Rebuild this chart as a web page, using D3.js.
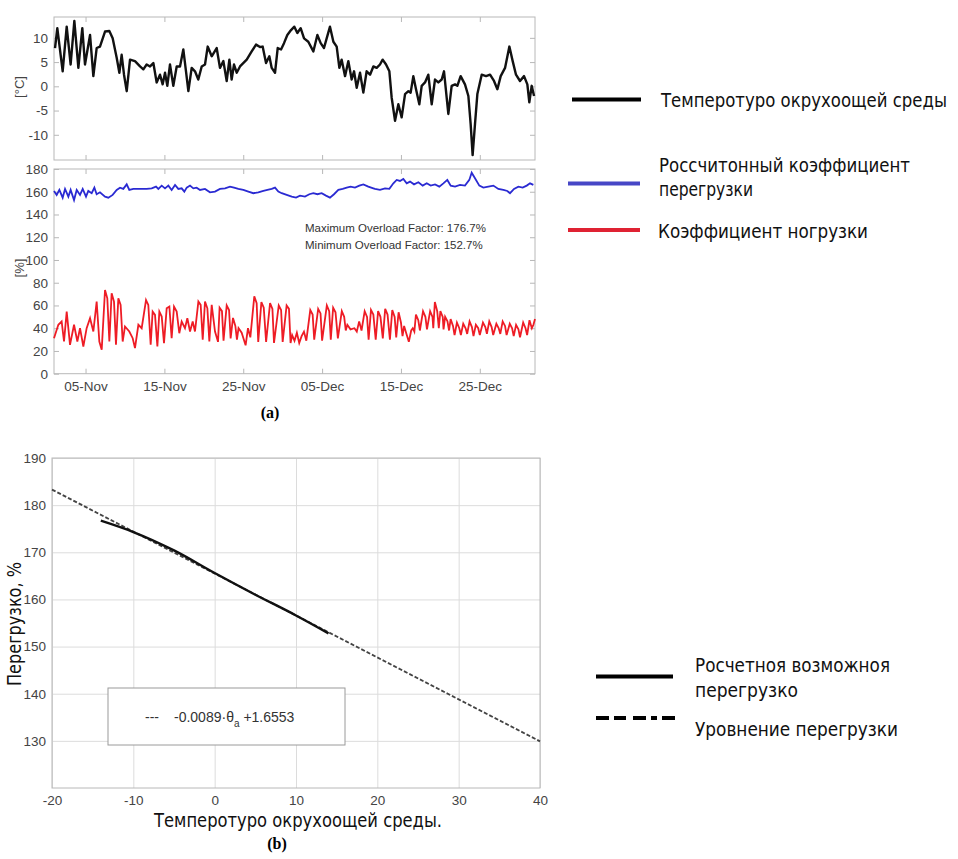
<!DOCTYPE html>
<html>
<head>
<meta charset="utf-8">
<script src="https://cdnjs.cloudflare.com/ajax/libs/d3/7.8.5/d3.min.js"></script>
<style>
body { margin: 0; background: #fff; }
text { font-family: "Liberation Sans", Arial, sans-serif; }
.ru { font-family: "DejaVu Sans Condensed", "DejaVu Sans", sans-serif; font-size: 19px; fill: #111; }
.axis text { fill: #444; font-size: 13.5px; }
.axis line { stroke: #b8b8b8; }
.axis path { display: none; }
.grid line { stroke: #dcdcdc; }
.grid path { display: none; }
</style>
</head>
<body>
<script>
// ambient temperature, day offset from 1 Nov 2013
var tempDay = [0.13,0.42,1.10,1.61,2.11,2.58,3.09,3.59,3.93,4.57,
  4.99,5.41,5.83,6.47,7.02,7.44,7.95,8.29,8.58,8.88,
  9.22,9.64,10.27,10.91,11.33,11.75,12.18,12.60,13.02,13.44,
  13.78,14.08,14.37,14.71,15.13,15.56,15.98,16.40,16.74,17.04,
  17.46,17.88,18.30,18.73,19.15,19.49,20.00,
  20.63,21.05,21.48,21.90,22.24,22.53,22.83,23.17,23.59,24.44,
  25.07,25.62,26.13,26.46,26.89,27.31,27.61,28.03,28.37,28.79,
  29.17,29.59,30.06,30.48,30.86,31.28,31.71,32.25,32.89,33.40,
  33.82,34.24,34.58,35.00,35.43,35.85,36.19,36.48,36.91,37.33,
  37.75,38.05,38.39,38.81,39.23,39.65,40.08,
  40.50,40.92,41.34,41.68,42.11,42.53,42.82,43.25,43.67,44.09,
  44.52,44.94,45.23,45.57,45.91,46.33,46.63,47.05,47.47,47.90,
  48.32,48.74,49.17,49.46,50.01,50.43,50.86,51.15,51.57,52.12,
  52.55,52.84,53.09,53.39,53.69,54.24,54.79,55.30,55.80,56.23,
  56.65,57.20,57.75,58.17,58.59,59.10,59.61,60.03,60.28,60.58,60.88];
var tempVal = [7.9,12.0,3.1,12.3,4.5,13.5,3.8,12.0,4.5,10.6,
  2.1,7.9,8.2,11.3,11.4,9.9,5.9,2.8,6.5,2.4,
  -1.0,5.5,5.2,4.1,3.5,4.5,4.1,4.8,0.8,2.4,
  0.4,2.8,0.1,4.5,0.1,4.1,4.1,7.6,3.1,-1.0,
  3.8,3.1,1.4,4.1,4.5,8.2,6.2,
  7.9,3.8,5.2,1.1,5.5,1.4,4.5,2.8,4.1,5.5,
  7.2,8.6,8.1,8.2,4.8,6.2,3.8,2.8,7.9,7.6,
  8.9,10.6,11.6,12.3,11.0,12.0,9.9,9.2,7.2,10.6,
  8.9,7.9,9.9,12.3,9.2,8.2,3.8,5.5,2.1,5.2,
  1.4,3.1,-0.3,2.8,-1.3,3.1,2.4,
  4.1,3.8,4.5,5.5,4.5,3.1,-2.3,-7.1,-3.7,-6.4,
  -1.6,-1.0,-1.3,2.1,-0.6,-3.7,0.1,0.8,2.4,-3.7,
  1.4,0.8,1.4,3.1,-5.7,0.1,0.4,0.1,2.1,0.4,
  -2.0,-7.8,-14.2,-7.8,-1.6,2.4,2.1,2.4,1.1,-0.6,
  2.1,3.8,8.2,5.2,2.4,1.1,2.1,0.4,-3.3,0.1,-2.0];

// calculated overload factor (blue), %
var overDay = [0.0,0.34,0.68,1.10,1.40,1.82,2.11,2.54,2.88,3.30,
  3.64,4.06,4.35,4.78,5.12,5.41,5.83,6.47,6.89,7.44,
  7.95,8.37,8.79,9.22,9.55,10.06,10.91,11.75,12.39,12.94,
  13.23,13.66,14.08,14.50,14.92,15.35,15.77,16.19,16.53,16.83,
  17.25,17.67,18.09,18.52,19.15,19.78,20.42,
  21.05,21.69,22.32,22.83,23.38,24.01,24.65,25.28,25.91,26.55,
  27.06,27.61,28.03,28.45,28.88,29.51,30.15,30.69,31.20,31.83,
  32.38,32.89,33.40,33.95,34.49,35.00,35.51,36.06,36.61,37.12,
  37.62,38.17,38.72,39.23,39.86,40.50,
  40.71,41.34,41.98,42.53,43.04,43.46,43.88,44.30,44.73,45.15,
  45.66,46.21,46.76,47.27,47.77,48.32,48.87,49.38,49.88,50.31,
  50.86,51.49,52.12,52.67,52.97,53.39,53.94,54.45,55.08,55.72,
  56.35,56.99,57.49,57.83,58.34,58.89,59.44,59.95,60.37,60.79];
var overVal = [160.7,157.2,161.6,154.8,162.5,155.7,161.6,152.7,161.6,157.2,
  162.5,155.7,160.7,158.7,163.6,157.8,159.5,155.7,154.8,157.2,
  161.6,163.6,162.5,166.5,161.6,162.5,162.5,162.5,163.0,164.5,
  162.5,165.4,163.0,165.4,161.6,166.0,162.5,163.0,160.1,163.6,
  165.4,163.0,163.6,161.6,162.5,159.5,160.1,
  162.5,163.0,164.5,163.6,162.5,161.6,160.1,158.7,159.5,160.7,
  161.6,162.5,163.6,160.1,158.7,157.2,155.7,154.8,156.6,155.7,
  157.8,158.7,157.8,158.7,156.6,154.8,157.8,161.6,162.5,163.6,
  164.5,163.6,165.4,166.5,164.5,163.0,
  162.5,161.6,163.0,162.5,167.4,170.4,169.5,171.2,167.4,168.9,
  166.5,168.3,165.4,167.4,165.4,166.5,164.5,167.4,170.4,165.4,
  164.5,166.0,165.4,170.4,176.7,171.8,165.4,163.6,164.5,165.4,
  162.5,161.6,160.7,158.7,162.5,164.5,163.6,165.4,167.4,166.0];

// load factor (red), %
var loadDay = [0.0,0.55,0.97,1.27,1.61,2.03,2.54,2.96,3.30,3.72,
  4.14,4.57,4.99,5.41,5.75,6.05,6.47,6.76,7.02,7.31,
  7.61,7.86,8.16,8.45,8.71,9.00,9.55,9.98,10.27,10.70,
  11.12,11.67,11.96,12.26,12.51,12.81,13.11,13.36,13.66,13.95,
  14.29,14.63,14.92,15.22,15.56,15.89,16.19,16.61,16.91,17.25,
  17.59,17.88,18.31,18.60,18.86,19.15,19.45,19.70,20.00,20.42,
  20.8,21.0,21.3,21.5,21.9,22.2,22.4,22.7,23.0,23.2,
  23.4,23.8,24.3,24.6,24.9,25.4,25.7,25.9,26.3,26.6,
  26.9,27.4,27.7,27.9,28.5,28.8,29.0,29.5,29.8,30.0,
  30.2,30.5,30.8,31.1,31.4,31.7,32.0,32.5,32.8,33.0,
  33.5,33.8,34.0,34.6,34.9,35.1,35.4,35.7,36.0,36.5,
  36.8,37.0,37.2,37.6,38.1,38.4,38.7,39.0,39.4,39.7,
  39.9,40.2,40.5,40.8,41.1,41.4,41.7,42.0,42.3,42.6,
  42.9,43.2,43.4,43.7,44.0,44.2,44.4,44.7,45.0,45.3,
  45.5,45.7,45.9,46.2,46.4,46.8,47.1,47.3,47.7,48.0,
  48.1,48.3,48.6,48.8,49.0,49.3,49.4,49.6,49.9,50.1,
  50.3,50.6,50.8,51.1,51.4,51.6,51.9,52.2,52.4,52.7,
  53.0,53.2,53.5,53.8,54.0,54.4,54.7,54.9,55.2,55.5,
  55.7,56.1,56.4,56.6,56.9,57.2,57.4,57.8,58.1,58.3,
  58.6,58.9,59.1,59.5,59.8,60.0,60.3,60.6,60.8,61.0];
var loadVal = [31.2,43.0,45.9,28.3,54.6,25.4,43.0,28.3,40.0,23.9,
  40.0,48.8,37.1,63.4,28.3,21.0,73.6,66.3,28.3,70.7,
  63.4,25.4,66.3,60.5,28.3,41.5,37.1,31.2,22.5,43.0,
  40.0,64.8,60.5,25.4,54.6,51.7,23.9,54.6,50.3,26.9,
  57.5,59.0,31.2,59.0,54.6,35.6,45.9,40.0,48.8,37.1,
  45.9,37.1,63.4,60.5,29.8,63.4,57.5,28.3,60.5,37.1,
  28,58,55,29,60,56,31,49,42,30,
  40,36,25,40,32,68,62,28,63,58,
  28,62,57,27,60,56,28,60,57,27,
  34,29,36,27,33,37,29,56,52,30,
  57,53,29,60,55,30,58,54,31,55,
  50,38,43,39,40,37,46,38,55,50,
  30,56,52,30,55,50,31,57,52,30,
  56,50,32,54,45,33,42,35,28,38,
  40,37,52,47,38,55,50,39,55,50,
  40,63,55,40,55,50,39,50,46,38,
  48,42,34,45,40,34,44,40,35,46,
  41,33,43,40,34,45,41,35,46,41,
  34,44,40,35,46,42,34,44,40,33,
  43,39,32,45,40,34,47,40,43,48];

var dateTicks = ["2013-11-05","2013-11-15","2013-11-25","2013-12-05","2013-12-15","2013-12-25"];
var tempTicks = [-10, -5, 0, 5, 10];
var pctTicks = [0, 20, 40, 60, 80, 100, 120, 140, 160, 180];

// panel (b)
var fitT = [-20, 40];
var fitV = [183.3, 129.9];
var calcT = [-14, -10, -5, 0, 5, 10, 14];
var calcV = [176.7, 174.3, 170.4, 165.6, 161.0, 156.6, 152.8];
var bxTicks = [-20, -10, 0, 10, 20, 30, 40];
var byTicks = [130, 140, 150, 160, 170, 180, 190];

var w = 958, h = 859;
var t0 = Date.UTC(2013, 10, 1);
var toDate = d => new Date(t0 + d * 864e5);
var parse = d3.utcParse("%Y-%m-%d");
var plain = d => String(d);   // hyphen minus, as in the source figure

var svg = d3.select("body").append("svg")
    .attr("width", w).attr("height", h)
    .style("background", "#fff");

var x = d3.scaleUtc()
    .domain([new Date(t0), new Date(Date.UTC(2014, 0, 1))])
    .range([54, 535]);

var yT = d3.scaleLinear().domain([-15.2, 14.3]).range([160, 17]);
var yP = d3.scaleLinear().domain([0, 180]).range([373.7, 169]);

function frame(x0, y0, x1, y1) {
    svg.append("rect")
        .attr("x", x0).attr("y", y0)
        .attr("width", x1 - x0).attr("height", y1 - y0)
        .attr("fill", "none").attr("stroke", "#b8b8b8");
}

function boxAxes(ys, ticks, top, bottom, showDates) {
    svg.append("g").attr("class", "axis")
        .attr("transform", "translate(54,0)")
        .call(d3.axisLeft(ys).tickValues(ticks).tickSize(-5).tickPadding(6).tickFormat(plain));
    svg.append("g").attr("class", "axis")
        .attr("transform", "translate(535,0)")
        .call(d3.axisRight(ys).tickValues(ticks).tickSize(-5).tickFormat(""));
    var dt = dateTicks.map(parse);
    svg.append("g").attr("class", "axis")
        .attr("transform", "translate(0," + top + ")")
        .call(d3.axisTop(x).tickValues(dt).tickSize(-5).tickFormat(""));
    svg.append("g").attr("class", "axis")
        .attr("transform", "translate(0," + bottom + ")")
        .call(d3.axisBottom(x).tickValues(dt).tickSize(-5).tickPadding(8)
            .tickFormat(showDates ? d3.utcFormat("%d-%b") : ""));
    frame(54, top, 535, bottom);
}

// (a) top: temperature
boxAxes(yT, tempTicks, 17, 160, false);
svg.append("path")
    .datum(tempDay.map((d, i) => [d, tempVal[i]]))
    .attr("fill", "none").attr("stroke", "#111").attr("stroke-width", 2.4)
    .attr("stroke-linejoin", "round")
    .attr("d", d3.line().x(d => x(toDate(d[0]))).y(d => yT(d[1])));

svg.append("text")
    .text("[°C]")
    .attr("transform", "translate(24,87)rotate(-90)")
    .attr("text-anchor", "middle")
    .attr("font-size", 13).attr("fill", "#444");

// (a) bottom: overload / load factor
boxAxes(yP, pctTicks, 169, 373.7, true);
svg.append("path")
    .datum(overDay.map((d, i) => [d, overVal[i]]))
    .attr("fill", "none").attr("stroke", "#2a2ad2").attr("stroke-width", 1.8)
    .attr("d", d3.line().x(d => x(toDate(d[0]))).y(d => yP(d[1])));
svg.append("path")
    .datum(loadDay.map((d, i) => [d, loadVal[i]]))
    .attr("fill", "none").attr("stroke", "#ee1c25").attr("stroke-width", 1.8)
    .attr("d", d3.line().x(d => x(toDate(d[0]))).y(d => yP(d[1])));

svg.append("text")
    .text("[%]")
    .attr("transform", "translate(24,268)rotate(-90)")
    .attr("text-anchor", "middle")
    .attr("font-size", 13).attr("fill", "#444");

svg.append("text")
    .text("Maximum Overload Factor: " + d3.max(overVal).toFixed(1) + "%")
    .attr("x", 305).attr("y", 232)
    .attr("font-size", 11.5).attr("fill", "#333");
svg.append("text")
    .text("Minimum Overload Factor: " + d3.min(overVal).toFixed(1) + "%")
    .attr("x", 305).attr("y", 249)
    .attr("font-size", 11.5).attr("fill", "#333");

svg.append("text")
    .text("(a)")
    .attr("x", 270).attr("y", 418)
    .attr("text-anchor", "middle")
    .style("font-family", "'Liberation Serif', serif")
    .attr("font-weight", "bold").attr("font-size", 16);

// legend (a)
function legLine(x1, x2, y, color, dash) {
    svg.append("line")
        .attr("x1", x1).attr("x2", x2).attr("y1", y).attr("y2", y)
        .attr("stroke", color).attr("stroke-width", 4)
        .attr("stroke-dasharray", dash || null);
}
function ruText(str, xx, yy, len) {
    return svg.append("text").attr("class", "ru")
        .text(str)
        .attr("x", xx).attr("y", yy).attr("dy", "0.36em")
        .attr("textLength", len).attr("lengthAdjust", "spacingAndGlyphs");
}
legLine(572, 641, 99.5, "#000");
ruText("Темперотуро окрухоощей среды", 661, 100, 286);
legLine(568, 640, 183.5, "#4747c6");
ruText("Россчитонный коэффициент", 659, 165, 251);
ruText("перегрузки", 659, 189, 94);
legLine(568, 640, 230, "#df2232");
ruText("Коэффициент ногрузки", 658, 231, 210);

// (b) overload vs ambient temperature
var xB = d3.scaleLinear().domain([-20, 40]).range([52, 540]);
var yB = d3.scaleLinear().domain([120, 190]).range([788, 458]);

svg.append("g").attr("class", "grid")
    .attr("transform", "translate(0,788)")
    .call(d3.axisBottom(xB).tickValues(bxTicks).tickSize(-330).tickFormat(""));
svg.append("g").attr("class", "grid")
    .attr("transform", "translate(52,0)")
    .call(d3.axisLeft(yB).tickValues(byTicks).tickSize(-488).tickFormat(""));
svg.append("g").attr("class", "axis")
    .attr("transform", "translate(0,788)")
    .call(d3.axisBottom(xB).tickValues(bxTicks).tickSize(0).tickPadding(7).tickFormat(plain));
svg.append("g").attr("class", "axis")
    .attr("transform", "translate(52,0)")
    .call(d3.axisLeft(yB).tickValues(byTicks).tickSize(0).tickPadding(6).tickFormat(plain));
svg.append("rect")
    .attr("x", 52).attr("y", 458).attr("width", 488).attr("height", 330)
    .attr("fill", "none").attr("stroke", "#b8b8b8");

svg.append("path")
    .datum(fitT.map((d, i) => [d, fitV[i]]))
    .attr("fill", "none").attr("stroke", "#444").attr("stroke-width", 1.8)
    .attr("stroke-dasharray", "4,2")
    .attr("d", d3.line().x(d => xB(d[0])).y(d => yB(d[1])));
svg.append("path")
    .datum(calcT.map((d, i) => [d, calcV[i]]))
    .attr("fill", "none").attr("stroke", "#111").attr("stroke-width", 2.4)
    .attr("d", d3.line().curve(d3.curveMonotoneX).x(d => xB(d[0])).y(d => yB(d[1])));

// equation box
svg.append("rect")
    .attr("x", 108).attr("y", 688).attr("width", 237).attr("height", 57)
    .attr("fill", "#fff").attr("stroke", "#9a9a9a");
var eq = svg.append("text")
    .attr("y", 722)
    .attr("font-size", 14).attr("fill", "#333");
eq.append("tspan").text("---").attr("x", 145);
eq.append("tspan").text("-0.0089·θ").attr("x", 174);
eq.append("tspan").text("a").attr("dy", 5).attr("font-size", 10);
eq.append("tspan").text(" +1.6553").attr("dy", -5);

ruText("Перегрузко, %", 0, 0, 124)
    .attr("transform", "translate(14,624)rotate(-90)")
    .attr("x", 0).attr("y", 0)
    .attr("text-anchor", "middle");
ruText("Темперотуро окрухоощей среды.", 298, 820, 288)
    .attr("text-anchor", "middle");

svg.append("text")
    .text("(b)")
    .attr("x", 277).attr("y", 849)
    .attr("text-anchor", "middle")
    .style("font-family", "'Liberation Serif', serif")
    .attr("font-weight", "bold").attr("font-size", 16);

// legend (b)
legLine(596, 673, 676.5, "#000");
ruText("Росчетноя возможноя", 695, 665, 195);
ruText("перегрузко", 695, 690, 103);
legLine(596, 675, 718, "#000", "13,5,12,7,13,5,6,5,13");
ruText("Уровнение перегрузки", 695, 729, 203);
</script>
</body>
</html>
